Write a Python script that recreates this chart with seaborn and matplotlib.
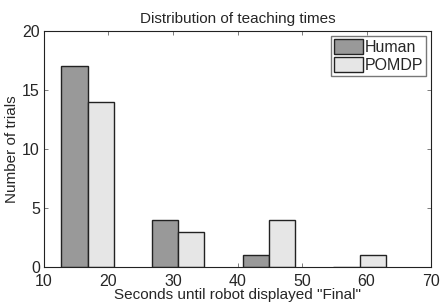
import pandas as pd
import matplotlib
matplotlib.use('Agg')
import matplotlib.pyplot as plt
import seaborn as sns

# bin centres (seconds) and counts
bin_centers = [16.75, 30.8, 44.9, 58.95]
human_counts = [17, 4, 1, 0]
pomdp_counts = [14, 3, 4, 1]
series = ['Human', 'POMDP']

df = pd.DataFrame({
    'seconds': bin_centers * 2,
    'trials': human_counts + pomdp_counts,
    'group': [series[0]] * 4 + [series[1]] * 4,
})

sns.set_style('white')
plt.rcParams['font.family'] = ['Liberation Sans', 'DejaVu Sans']

fig = plt.figure(figsize=(4.43, 3.06), dpi=100)
ax = fig.add_axes([0.0993, 0.1275, 0.8737, 0.7712])

sns.barplot(data=df, x='seconds', y='trials', hue='group', native_scale=True,
            width=0.58, palette=['#999999', '#e6e6e6'], saturation=1,
            edgecolor='#222222', linewidth=1.0, ax=ax)

ax.set_xlim(10, 70)
ax.set_ylim(0, 20)
ax.set_xticks(range(10, 71, 10))
ax.set_yticks(range(0, 21, 5))
ax.tick_params(direction='in', length=3, width=0.6, bottom=True, left=True,
               top=True, right=True, labelsize=11.5, color='#666666')
ax.tick_params(axis='x', pad=5)
ax.tick_params(axis='y', pad=3)
for s in ax.spines.values():
    s.set_visible(True)
    s.set_color('#222222')
    s.set_linewidth(0.8)

ax.set_title('Distribution of teaching times', fontsize=11, pad=6)
ax.set_xlabel('Seconds until robot displayed "Final"', fontsize=11, labelpad=-0.5)
ax.set_ylabel('Number of trials', fontsize=11, labelpad=2)

leg = ax.legend(loc='upper right', fontsize=11.5, frameon=True, fancybox=False,
                handlelength=1.8, handleheight=1.1, handletextpad=0.1,
                borderpad=0.2, borderaxespad=0.3, labelspacing=0.1)
leg.get_frame().set_edgecolor('#555555')
leg.get_frame().set_linewidth(1.0)

fig.savefig('out.png', dpi=100)
